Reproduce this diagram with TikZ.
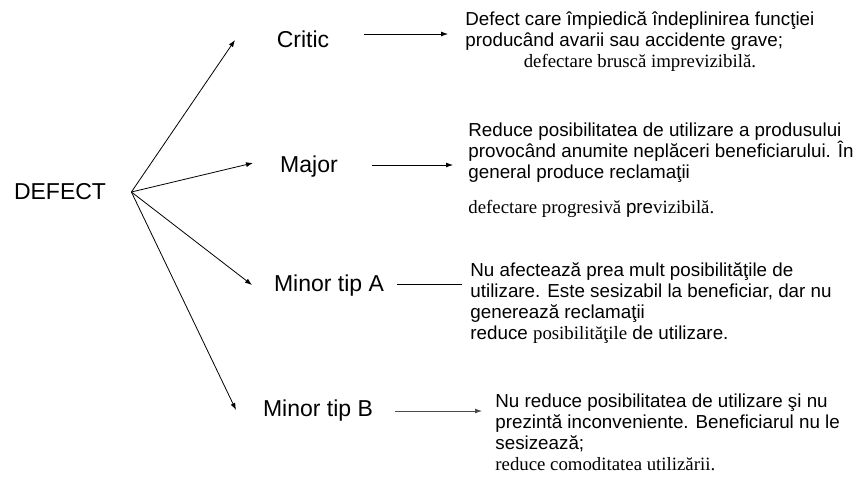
\documentclass[tikz,border=0pt]{standalone}
\usepackage{fontspec}
\setmainfont{Liberation Sans}
\newfontfamily\tnr{Liberation Serif}
\usetikzlibrary{arrows.meta,positioning}

\begin{document}
\begin{tikzpicture}[x=1pt,y=-1pt,>={Latex[length=7pt,width=5pt]},line width=0.8pt,
    kind/.style={font=\fontsize{23}{27}\selectfont,inner sep=0pt},
    note/.style={font=\fontsize{18.8}{21}\selectfont,align=left,inner sep=0pt,anchor=base west}]
  \useasboundingbox (0,0) rectangle (854,482);

  \node[kind] (defect) at (60,192)  {DEFECT};
  \node[kind] (critic) at (303,39)  {Critic};
  \node[kind] (major)  at (309,167) {Major};
  \node[kind] (minora) at (329,286) {Minor tip A};
  \node[kind] (minorb) at (318,411) {Minor tip B};

  \coordinate (root) at ([xshift=25pt]defect.east);
  \coordinate (critictip) at (235,40);
  \coordinate (majortip)  at (253,163);
  \coordinate (minoratip) at (252,285);
  \coordinate (minorbtip) at (236,410);

  \node[note] (criticdesc) at (465,46)  {Defect care împiedică îndeplinirea funcţiei\\producând avarii sau accidente grave;};
  \node[note,anchor=north] (critictail) [below=4pt of criticdesc] {\tnr defectare bruscă imprevizibilă.};
  \node[note] (majordesc)  at (468,178) {Reduce posibilitatea de utilizare a produsului\\provocând anumite neplăceri beneficiarului. În\\general produce reclamaţii};
  \node[note,anchor=north west] (majortail) [below right=17pt and 0pt of majordesc.south west] {{\tnr defectare progresivă }pre{\tnr vizibilă.}};
  \node[note] (minoradesc) at (470,339) {Nu afectează prea mult posibilităţile de\\utilizare. Este sesizabil la beneficiar, dar nu\\generează reclamaţii\\reduce {\tnr posibilităţile} de utilizare.};
  \node[note] (minorbdesc) at (495,470) {Nu reduce posibilitatea de utilizare şi nu\\prezintă inconveniente. Beneficiarul nu le\\sesizează;\\{\tnr reduce comoditatea utilizării.}};

  % ramuri din DEFECT
  \path[->] (root) edge (critictip)
                   edge (majortip)
                   edge (minoratip)
                   edge (minorbtip);

  % spre descrieri
  \draw[->,shorten <=34pt,shorten >=17pt] ([yshift=5pt]critic.east) -- ([yshift=5pt]critic.east -| criticdesc.west);
  \draw[->,shorten <=34pt,shorten >=15pt] ([yshift=2pt]major.east) -- ([yshift=2pt]major.east -| majordesc.west);
  \draw[shorten <=13pt,shorten >=8pt] ([yshift=2pt]minora.east) -- ([yshift=2pt]minora.east -| minoradesc.west);
  \draw[->,black!70,shorten <=22pt,shorten >=13pt] (minorb.east) -- (minorb.east -| minorbdesc.west);
\end{tikzpicture}
\end{document}
